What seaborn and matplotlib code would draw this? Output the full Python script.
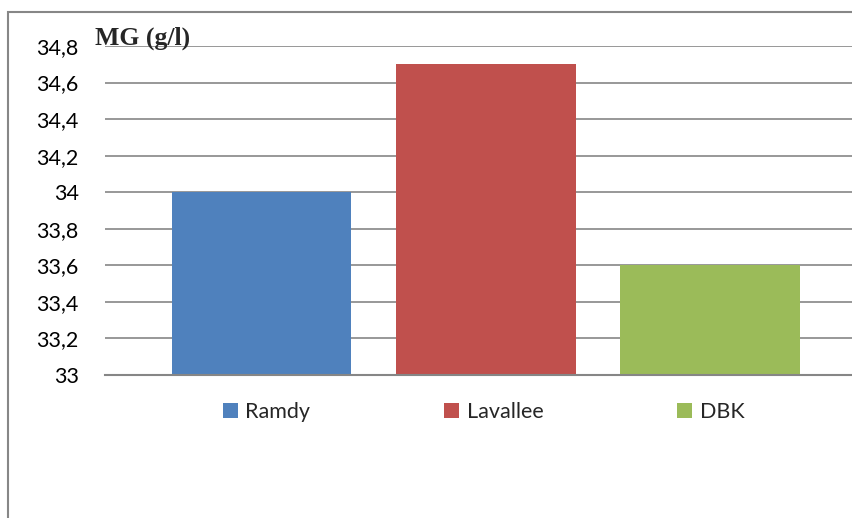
import matplotlib
matplotlib.use("Agg")
import matplotlib.pyplot as plt
import seaborn as sns
import pandas as pd
from matplotlib.patches import Patch, Rectangle
from matplotlib.ticker import FuncFormatter, MultipleLocator

# donnees
categories = ["Ramdy", "Lavallee", "DBK"]
mg_values = [34.0, 34.7, 33.6]
colors = ["#4F81BD", "#C0504D", "#9BBB59"]
title = "MG (g/l)"

df = pd.DataFrame({"site": categories, "mg": mg_values})

sns.set_style("white")
plt.rcParams["font.family"] = ["Lato", "DejaVu Sans"]

W, H = 853, 518
fig = plt.figure(figsize=(W / 100, H / 100), dpi=100)
ax = fig.add_axes([105 / W, 1 - 375 / H, 1 - 105 / W, (375 - 46) / H])

sns.barplot(data=df, x="site", y="mg", hue="site", palette=colors,
            order=categories, hue_order=categories, width=0.8,
            legend=False, saturation=1, linewidth=0, ax=ax)

# axes facon Excel
ax.set_ylim(33, 34.8)
ax.set_xlim(-0.70, 2.638)
ax.yaxis.set_major_locator(MultipleLocator(0.2))
ax.yaxis.set_major_formatter(FuncFormatter(lambda v, p: f"{round(v, 1):g}".replace(".", ",")))
ax.grid(axis="y", color="#868686", linewidth=1.2)
ax.set_axisbelow(True)
for s in ["top", "right", "left"]:
    ax.spines[s].set_visible(False)
ax.spines["bottom"].set_color("#868686")
ax.spines["bottom"].set_linewidth(1.5)
ax.tick_params(axis="y", length=0, pad=19, labelsize=15.5, labelcolor="black")
ax.set_xticks([])
ax.set_xlabel("")
ax.set_ylabel("")

# titre
fig.text(95 / W, 1 - 38 / H, title, family="Liberation Serif", fontweight="bold",
         fontsize=18.5, va="center", ha="left")

# legende
handles = [Patch(facecolor=c, edgecolor="none", label=l) for c, l in zip(colors, categories)]
fig.legend(handles=handles, loc="center", bbox_to_anchor=(483.5 / W, 1 - 412 / H),
           ncol=3, frameon=False, fontsize=15.5, handlelength=0.72, handleheight=0.72,
           handletextpad=0.34, columnspacing=6.2, borderpad=0)

# cadre du graphique
fig.patches.append(Rectangle((8 / W, -0.05), 1.2, 1 - 12 / H + 0.05, transform=fig.transFigure,
                             fill=False, edgecolor="#878787", linewidth=1.5))

plt.savefig("out.png", dpi=100)
